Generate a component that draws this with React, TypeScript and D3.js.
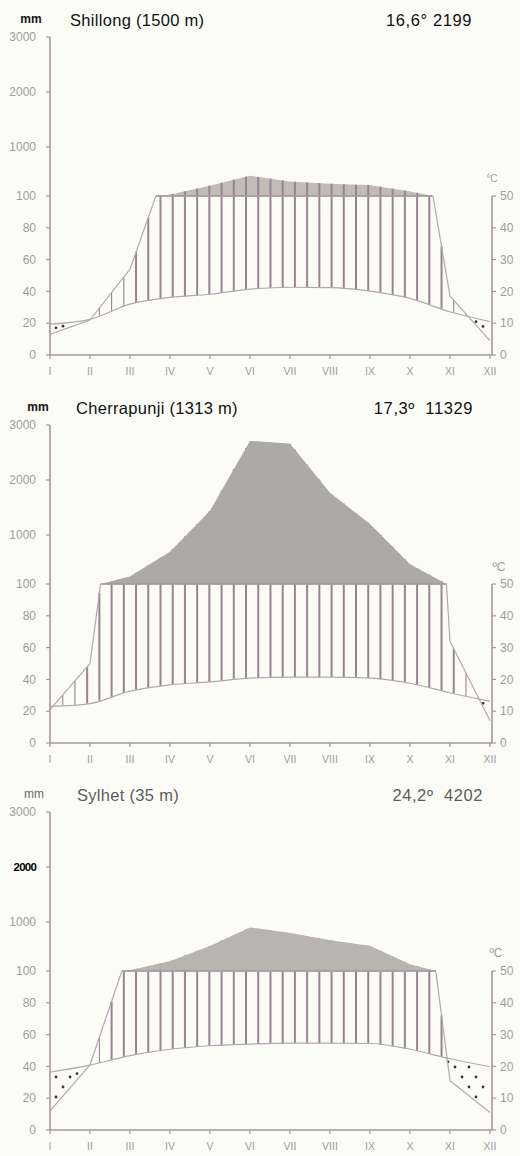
import React from "react";
import * as d3 from "d3";

// Walter–Lieth climate diagrams for three stations in Meghalaya / Sylhet.
const MONTHS = ["I", "II", "III", "IV", "V", "VI", "VII", "VIII", "IX", "X", "XI", "XII"];
const PREC_TICKS = [0, 20, 40, 60, 80, 100, 1000, 2000, 3000];
const TEMP_TICKS = [0, 10, 20, 30, 40, 50];

// Shillong: mean monthly temperature (°C) and precipitation (mm)
const SHILLONG_TEMP = [9.7, 11.2, 16.0, 18.1, 19.1, 20.7, 21.3, 21.2, 20.1, 17.8, 13.6, 10.5];
const SHILLONG_PREC = [13, 22, 54, 125, 290, 473, 366, 325, 300, 185, 37, 9];

// Cherrapunji
const CHERRA_TEMP = [11.5, 12.4, 16.3, 18.3, 19.2, 20.4, 20.7, 20.7, 20.4, 18.8, 15.8, 13.1];
const CHERRA_PREC = [21, 50, 240, 693, 1441, 2711, 2662, 1768, 1200, 465, 64, 14];

// Sylhet
const SYLHET_TEMP = [18.2, 20.4, 23.4, 25.4, 26.5, 27.0, 27.3, 27.3, 27.2, 25.4, 22.4, 19.9];
const SYLHET_PREC = [12, 41, 115, 280, 560, 900, 800, 665, 562, 225, 31, 11];

const STATIONS = [
  { title: "Shillong (1500 m)", summary: "16,6° 2199", temp: SHILLONG_TEMP, prec: SHILLONG_PREC },
  { title: "Cherrapunji (1313 m)", summary: "17,3º  11329", temp: CHERRA_TEMP, prec: CHERRA_PREC },
  { title: "Sylhet (35 m)", summary: "24,2º  4202", temp: SYLHET_TEMP, prec: SYLHET_PREC },
];

const W = 520;
const H = 1156;
const X_LEFT = 50;
const X_RIGHT = 490;
const AXIS_RIGHT = 492;
const FONT = "'Liberation Sans', Arial, Helvetica, sans-serif";

const AXIS = "#a6979f";
const CURVE = "#b3a8b0";
const HATCH = "#968491";
const TICK_TEXT = "#9c9c9c";

type Style = {
  zeroY: number;
  titleX: number;
  summaryX: number;
  mmX: number;
  ink: string;
  mmInk: string;
  mmBold: boolean;
  fill: string;
  fillOverHatch: boolean;
  celsius: string;
  celsiusX: number;
  celsiusDy: number;
  celsiusSize: number;
};

const STYLES: Style[] = [
  { zeroY: 355, titleX: 70, summaryX: 472, mmX: 31, ink: "#111", mmInk: "#111", mmBold: true, fill: "#c3bcb6", fillOverHatch: false, celsius: "°C", celsiusX: 492, celsiusDy: -14, celsiusSize: 10 },
  { zeroY: 743, titleX: 76, summaryX: 473, mmX: 38, ink: "#111", mmInk: "#111", mmBold: true, fill: "#adaaa5", fillOverHatch: true, celsius: "ºC", celsiusX: 499, celsiusDy: -13, celsiusSize: 12 },
  { zeroY: 1130, titleX: 77, summaryX: 483, mmX: 34, ink: "#5c5c5c", mmInk: "#6a6a6a", mmBold: false, fill: "#b7b5ae", fillOverHatch: true, celsius: "ºC", celsiusX: 496, celsiusDy: -14, celsiusSize: 12 },
];

function Panel({ station, style }: { station: (typeof STATIONS)[number]; style: Style }) {
  const { zeroY } = style;
  const { temp, prec } = station;

  const x = d3.scaleLinear().domain([0, 11]).range([X_LEFT, X_RIGHT]);
  // precipitation: linear up to 100 mm, compressed above
  const y = d3
    .scaleLinear()
    .domain([0, 100, 1000, 2000, 3000])
    .range([zeroY, zeroY - 159, zeroY - 208, zeroY - 263, zeroY - 318]);
  const yTemp = d3.scaleLinear().domain([0, 50]).range([zeroY, zeroY - 159]);

  const monthX = MONTHS.map((_, i) => x(i));
  const tAt = d3.scaleLinear().domain(monthX).range(temp);
  const pAt = d3.scaleLinear().domain(monthX).range(prec);

  const samples = d3.range(X_LEFT, X_RIGHT + 0.001, 0.5);

  const precLine = d3
    .line<number>()
    .x((s) => s)
    .y((s) => y(Math.min(pAt(s), 100)))(samples);
  const tempLine = d3
    .line<number>()
    .x((_, i) => monthX[i])
    .y((t) => yTemp(t))
    .curve(d3.curveMonotoneX)(temp);

  // perhumid part (> 100 mm)
  const wetArea = d3
    .area<number>()
    .x((s) => s)
    .y0(() => y(100))
    .y1((s) => y(Math.max(pAt(s), 100)))(samples);

  // vertical hatching for the humid season
  const hatch = d3
    .range(0, 37)
    .map((k) => 50.5 + k * 12.22)
    .filter((hx) => hx > X_LEFT + 1 && hx < X_RIGHT)
    .map((hx) => {
      const t = tAt(hx);
      const p = pAt(hx);
      if (p <= 2 * t) return null;
      const y1 = yTemp(t);
      const y2 = y(p);
      return { hx, y1, y2, w: y1 - y2 < 30 ? 1.1 : 2 };
    })
    .filter(Boolean) as { hx: number; y1: number; y2: number; w: number }[];

  // dots for the arid season: staggered grid, one dot per column in thin slivers
  const dots: { cx: number; cy: number }[] = [];
  for (let i = 0; 56 + 7 * i <= X_RIGHT - 1; i++) {
    const cx = 56 + 7 * i;
    const t = tAt(cx);
    const p = pAt(cx);
    if (2 * t <= p) continue;
    const lo = yTemp(t);
    const hi = y(p);
    const h = hi - lo;
    if (h < 14) {
      if (h > 6) dots.push({ cx, cy: (lo + hi) / 2 });
      continue;
    }
    for (let j = -8; j <= 6; j++) {
      if (Math.abs(j) % 2 !== i % 2) continue;
      const cy = zeroY - 53 + j * 10;
      if (cy > lo + 2.5 && cy < hi - 2.5) dots.push({ cx, cy });
    }
  }

  const wetXs = samples.filter((s) => pAt(s) > 100);
  const top = y(3000);

  const hatchEls = hatch.map((h, i) => (
    <line key={i} x1={h.hx} x2={h.hx} y1={h.y1} y2={h.y2} stroke={HATCH} strokeWidth={h.w} />
  ));
  const fillEl = <path d={wetArea ?? ""} fill={style.fill} stroke="none" />;
  const special2000 = style.zeroY > 1000;

  return (
    <g fontFamily={FONT}>
      {/* header */}
      <text x={style.mmX} y={zeroY - 332} fontSize={12} textAnchor="middle" fill={style.mmInk} fontWeight={style.mmBold ? 700 : 400}>
        mm
      </text>
      <text x={style.titleX} y={zeroY - 329} fontSize={16.5} letterSpacing={0.3} fill={style.ink}>
        {station.title}
      </text>
      <text x={style.summaryX} y={zeroY - 329} fontSize={16.5} letterSpacing={0.6} fill={style.ink} textAnchor="end" style={{ whiteSpace: "pre" }}>
        {station.summary}
      </text>

      {/* climate areas */}
      {style.fillOverHatch ? null : fillEl}
      {hatchEls}
      {style.fillOverHatch ? fillEl : null}
      {wetXs.length > 0 && (
        <line x1={wetXs[0]} x2={wetXs[wetXs.length - 1]} y1={y(100)} y2={y(100)} stroke={HATCH} strokeWidth={1.3} />
      )}
      {dots.map((d, i) => (
        <circle key={i} cx={d.cx} cy={d.cy} r={1.4} fill="#3e3039" />
      ))}
      <path d={tempLine ?? ""} fill="none" stroke={CURVE} strokeWidth={1.2} />
      <path d={precLine ?? ""} fill="none" stroke={CURVE} strokeWidth={1.2} />

      {/* left axis */}
      <line x1={X_LEFT} x2={X_LEFT} y1={top} y2={zeroY} stroke={AXIS} strokeWidth={1.6} />
      {PREC_TICKS.map((v) => (
        <g key={v}>
          <line x1={X_LEFT - 4} x2={X_LEFT} y1={y(v)} y2={y(v)} stroke={AXIS} strokeWidth={1.2} />
          <text
            x={36}
            y={y(v)}
            dy="0.35em"
            fontSize={v === 2000 && special2000 ? 11.5 : 12}
            textAnchor="end"
            fill={v === 2000 && special2000 ? "#000" : TICK_TEXT}
            fontWeight={v === 2000 && special2000 ? 700 : 400}
            letterSpacing={v === 2000 && special2000 ? -0.8 : 0}
          >
            {v}
          </text>
        </g>
      ))}

      {/* right axis */}
      <line x1={AXIS_RIGHT} x2={AXIS_RIGHT} y1={yTemp(50)} y2={zeroY} stroke={AXIS} strokeWidth={1.6} />
      {TEMP_TICKS.map((v) => (
        <g key={v}>
          <line x1={AXIS_RIGHT} x2={AXIS_RIGHT + 4} y1={yTemp(v)} y2={yTemp(v)} stroke={AXIS} strokeWidth={1.2} />
          <text x={500} y={yTemp(v)} dy="0.35em" fontSize={12} fill={TICK_TEXT}>
            {v}
          </text>
        </g>
      ))}
      <text x={style.celsiusX} y={yTemp(50) + style.celsiusDy} fontSize={style.celsiusSize} fill={TICK_TEXT} textAnchor="middle">
        {style.celsius}
      </text>

      {/* month axis */}
      <line x1={X_LEFT} x2={AXIS_RIGHT} y1={zeroY} y2={zeroY} stroke={AXIS} strokeWidth={1.6} />
      {MONTHS.map((m, i) => (
        <g key={m}>
          <line x1={x(i)} x2={x(i)} y1={zeroY} y2={zeroY + 4} stroke={AXIS} strokeWidth={1.2} />
          <text x={x(i)} y={zeroY + 20} fontSize={10.5} textAnchor="middle" fill={TICK_TEXT}>
            {m}
          </text>
        </g>
      ))}
    </g>
  );
}

export default function App() {
  return (
    <svg width={W} height={H} viewBox={`0 0 ${W} ${H}`} style={{ display: "block", position: "absolute", left: 0, top: 0 }}>
      <rect x={0} y={0} width={W} height={H} fill="#fcfcf7" />
      {STATIONS.map((s, i) => (
        <Panel key={s.title} station={s} style={STYLES[i]} />
      ))}
    </svg>
  );
}
